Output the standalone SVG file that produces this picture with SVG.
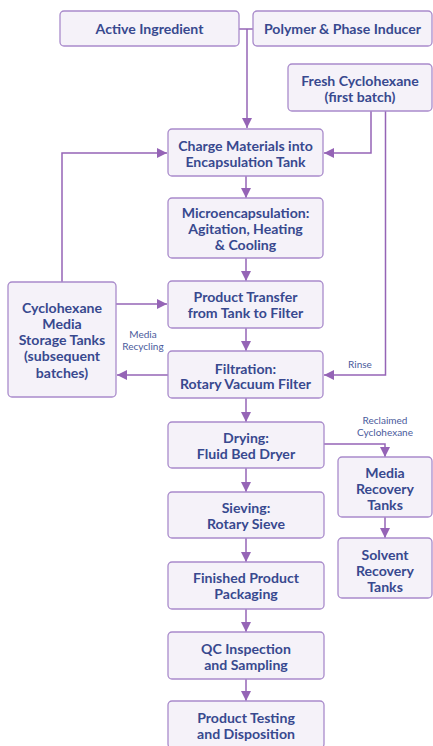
<svg xmlns="http://www.w3.org/2000/svg" width="433" height="746" viewBox="0 0 433 746">
<defs>
<style>
.box{fill:#f5f2f9;stroke:#a98bcb;stroke-width:1.3}
.t{font-family:Lato,"Open Sans",sans-serif;font-weight:bold;font-size:14.1px;fill:#38498f;text-anchor:middle;dominant-baseline:central}
.s{font-family:Lato,"Open Sans",sans-serif;font-size:10px;fill:#4a5a9c;text-anchor:middle;dominant-baseline:central}
.c{fill:none;stroke:#9564b6;stroke-width:1.5}
</style>
<marker id="ah" viewBox="0 0 10 10" refX="10" refY="5" markerWidth="10" markerHeight="10" markerUnits="userSpaceOnUse" orient="auto">
<path d="M0,0 L10,5 L0,10 Z" fill="#9564b6"/>
</marker>
</defs>
<rect width="433" height="746" fill="#ffffff"/>
<g id="connectors">
<path class="c" d="M239,29 H253"/>
<path class="c" d="M247,29 V128" marker-end="url(#ah)"/>
<path class="c" d="M371,111 V153 H324" marker-end="url(#ah)"/>
<path class="c" d="M385.5,111 V375 H324" marker-end="url(#ah)"/>
<path class="c" d="M62,282 V153 H167" marker-end="url(#ah)"/>
<path class="c" d="M246,176 V198" marker-end="url(#ah)"/>
<path class="c" d="M246,258 V281" marker-end="url(#ah)"/>
<path class="c" d="M116,304 H167" marker-end="url(#ah)"/>
<path class="c" d="M246,328 V351" marker-end="url(#ah)"/>
<path class="c" d="M168,375 H117" marker-end="url(#ah)"/>
<path class="c" d="M246,398 V422" marker-end="url(#ah)"/>
<path class="c" d="M324,444 H385 V457" marker-end="url(#ah)"/>
<path class="c" d="M246,468 V492" marker-end="url(#ah)"/>
<path class="c" d="M385,517 V538" marker-end="url(#ah)"/>
<path class="c" d="M246,538 V562" marker-end="url(#ah)"/>
<path class="c" d="M246,609 V632" marker-end="url(#ah)"/>
<path class="c" d="M246,679 V701" marker-end="url(#ah)"/>
<text class="s" x="143" y="334">Media</text>
<text class="s" x="143" y="345.5">Recycling</text>
<text class="s" x="360" y="364">Rinse</text>
<text class="s" x="385" y="420">Reclaimed</text>
<text class="s" x="385" y="431.5">Cyclohexane</text>
</g>
<g id="active"><rect class="box" x="60" y="11" width="179" height="35" rx="4"/><text class="t" x="149.5" y="28.5">Active Ingredient</text></g>
<g id="polymer"><rect class="box" x="253" y="11" width="179" height="35" rx="4"/><text class="t" x="342.5" y="28.5">Polymer &amp; Phase Inducer</text></g>
<g id="fresh"><rect class="box" x="288" y="64" width="144" height="47" rx="4"/><text class="t" x="360" y="80">Fresh Cyclohexane</text><text class="t" x="360" y="96">(first batch)</text></g>
<g id="charge"><rect class="box" x="168" y="129" width="155" height="47" rx="4"/><text class="t" x="245.5" y="145">Charge Materials into</text><text class="t" x="245.5" y="161.5">Encapsulation Tank</text></g>
<g id="micro"><rect class="box" x="168" y="198" width="155" height="60" rx="4"/><text class="t" x="245.5" y="212.7">Microencapsulation:</text><text class="t" x="245.5" y="228.7">Agitation, Heating</text><text class="t" x="245.5" y="244.7">&amp; Cooling</text></g>
<g id="transfer"><rect class="box" x="168" y="281" width="155" height="47" rx="4"/><text class="t" x="245.5" y="296">Product Transfer</text><text class="t" x="245.5" y="312.3">from Tank to Filter</text></g>
<g id="storage"><rect class="box" x="8" y="282" width="108" height="115" rx="4"/><text class="t" x="62" y="307.3">Cyclohexane</text><text class="t" x="62" y="323.5">Media</text><text class="t" x="62" y="339.7">Storage Tanks</text><text class="t" x="62" y="355.9">(subsequent</text><text class="t" x="62" y="372">batches)</text></g>
<g id="filtration"><rect class="box" x="168" y="351" width="155" height="47" rx="4"/><text class="t" x="245.5" y="368">Filtration:</text><text class="t" x="245.5" y="383.3">Rotary Vacuum Filter</text></g>
<g id="drying"><rect class="box" x="168" y="422" width="156" height="46" rx="4"/><text class="t" x="246" y="437.3">Drying:</text><text class="t" x="246" y="453.3">Fluid Bed Dryer</text></g>
<g id="media"><rect class="box" x="338" y="457" width="94" height="60" rx="4"/><text class="t" x="385" y="472.7">Media</text><text class="t" x="385" y="488.5">Recovery</text><text class="t" x="385" y="504">Tanks</text></g>
<g id="sieving"><rect class="box" x="168" y="492" width="156" height="46" rx="4"/><text class="t" x="246" y="507.3">Sieving:</text><text class="t" x="246" y="523">Rotary Sieve</text></g>
<g id="solvent"><rect class="box" x="338" y="538" width="94" height="60" rx="4"/><text class="t" x="385" y="554">Solvent</text><text class="t" x="385" y="570">Recovery</text><text class="t" x="385" y="586">Tanks</text></g>
<g id="finished"><rect class="box" x="168" y="562" width="156" height="47" rx="4"/><text class="t" x="246" y="577">Finished Product</text><text class="t" x="246" y="593">Packaging</text></g>
<g id="qc"><rect class="box" x="168" y="632" width="156" height="47" rx="4"/><text class="t" x="246" y="648.3">QC Inspection</text><text class="t" x="246" y="664.3">and Sampling</text></g>
<g id="testing"><rect class="box" x="168" y="701" width="156" height="47" rx="4"/><text class="t" x="246" y="717.3">Product Testing</text><text class="t" x="246" y="733.7">and Disposition</text></g>
</svg>
